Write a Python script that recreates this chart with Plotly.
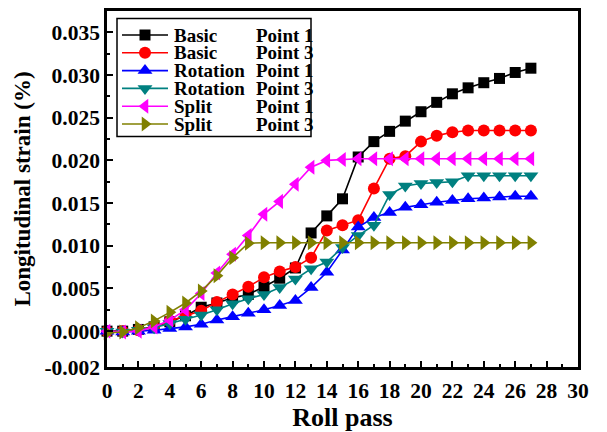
import plotly.graph_objects as go

# ---------------- data ----------------
roll_pass = list(range(0, 28))

basic_p1 = [0.0, 0.0, 0.2, 0.5, 1.1, 1.8, 2.8, 3.3, 3.9, 4.3, 5.2, 6.2, 7.4, 11.5, 13.5, 15.5,
            20.4, 22.2, 23.4, 24.6, 25.7, 26.8, 27.8, 28.5, 29.1, 29.6, 30.3, 30.8]
basic_p3 = [0.0, 0.0, 0.1, 0.5, 1.2, 1.8, 2.4, 3.4, 4.3, 5.2, 6.3, 7.0, 7.5, 8.6, 11.8, 12.4,
            13.0, 16.7, 20.2, 20.5, 22.2, 22.9, 23.3, 23.5, 23.5, 23.5, 23.5, 23.5]
rotation_p1 = [0.0, -0.1, 0.0, 0.1, 0.3, 0.5, 0.8, 1.3, 1.7, 2.1, 2.5, 3.0, 3.6, 5.1, 6.9, 9.5,
               12.2, 13.3, 13.9, 14.5, 14.8, 15.1, 15.3, 15.5, 15.6, 15.7, 15.8, 15.8]
rotation_p3 = [0.0, -0.1, 0.1, 0.4, 0.9, 1.4, 1.9, 2.5, 3.2, 3.8, 4.3, 5.1, 6.1, 7.3, 8.1, 9.8,
               11.2, 12.4, 16.0, 17.0, 17.3, 17.4, 17.5, 18.2, 18.2, 18.2, 18.2, 18.2]
split_p1 = [0.0, -0.1, 0.0, 0.5, 1.3, 2.5, 4.4, 6.8, 9.0, 11.2, 13.7, 15.2, 17.2, 19.2, 20.0, 20.1,
            20.2, 20.2, 20.2, 20.2, 20.2, 20.2, 20.2, 20.2, 20.2, 20.2, 20.2, 20.2]
split_p3 = [-0.2, -0.1, 0.4, 1.2, 2.2, 3.3, 4.7, 6.5, 8.6, 10.3, 10.35, 10.35, 10.35, 10.35, 10.35, 10.35,
            10.35, 10.35, 10.35, 10.35, 10.35, 10.35, 10.35, 10.35, 10.35, 10.35, 10.35, 10.35]

series_methods = ["Basic", "Basic", "Rotation", "Rotation", "Split", "Split"]
series_points = ["Point 1", "Point 3", "Point 1", "Point 3", "Point 1", "Point 3"]
series_values = [basic_p1, basic_p3, rotation_p1, rotation_p3, split_p1, split_p3]
series_colors = ["#000000", "#FF0000", "#0000FF", "#008080", "#FF00FF", "#808000"]
series_symbols = ["square", "circle", "triangle-up", "triangle-down", "triangle-left", "triangle-right"]
series_sizes = [11, 12, 13, 13, 13, 13]

x_tickvals = list(range(0, 31, 2))
x_ticktext = [str(v) for v in x_tickvals]
y_bottom = -0.0042
y_top = 0.0375
y_tickvals = [y_bottom, 0.0, 0.005, 0.010, 0.015, 0.020, 0.025, 0.030, 0.035]
y_ticktext = ["-0.002", "0.000", "0.005", "0.010", "0.015", "0.020", "0.025", "0.030", "0.035"]
y_minor = [0.0025, 0.0075, 0.0125, 0.0175, 0.0225, 0.0275, 0.0325]

# ---------------- layout constants ----------------
W, H = 607, 432
L, R, T, B = 107, 578, 11, 367
FONT = "Liberation Serif"

fig = go.Figure()

for name, pt, vals, col, sym, sz in zip(series_methods, series_points, series_values,
                                        series_colors, series_symbols, series_sizes):
    fig.add_trace(go.Scatter(
        x=roll_pass, y=[v / 1000.0 for v in vals], mode="lines+markers",
        name=f"{name} {pt}",
        line=dict(color=col, width=1.6),
        marker=dict(symbol=sym, size=sz, color=col, line=dict(width=0)),
        cliponaxis=False, showlegend=False))

# ---------------- manual legend (pixel overlay axes) ----------------
leg_left, leg_top, leg_right, leg_bottom = 117, 18.5, 311, 136.5
row0, row_gap = 35.0, 17.8
key_x0, key_x1 = 122, 168
text_x1, text_x2 = 172, 254

fig.add_shape(type="rect", xref="x2", yref="y2", x0=leg_left, x1=leg_right,
              y0=leg_top, y1=leg_bottom, line=dict(color="black", width=1.5),
              fillcolor="white", layer="below")

for i, (name, pt, col, sym, sz) in enumerate(zip(series_methods, series_points, series_colors,
                                                 series_symbols, series_sizes)):
    ry = row0 + i * row_gap
    fig.add_trace(go.Scatter(x=[key_x0, key_x1], y=[ry, ry], mode="lines",
                             line=dict(color=col, width=1.6), xaxis="x2", yaxis="y2",
                             showlegend=False, hoverinfo="skip"))
    fig.add_trace(go.Scatter(x=[(key_x0 + key_x1) / 2], y=[ry], mode="markers",
                             marker=dict(symbol=sym, size=sz, color=col, line=dict(width=0)),
                             xaxis="x2", yaxis="y2", showlegend=False, hoverinfo="skip"))
    fig.add_annotation(x=text_x1, y=ry, xref="x2", yref="y2", text=f"<b>{name}</b>",
                       showarrow=False, xanchor="left", yanchor="middle",
                       font=dict(family=FONT, size=19, color="black"))
    fig.add_annotation(x=text_x2, y=ry, xref="x2", yref="y2", text=f"<b>{pt}</b>",
                       showarrow=False, xanchor="left", yanchor="middle",
                       font=dict(family=FONT, size=19, color="black"))

axis_common = dict(showgrid=False, zeroline=False, showline=True, linecolor="black",
                   linewidth=2.5, mirror=True, ticks="inside", tickcolor="black",
                   tickwidth=2, ticklen=6,
                   tickfont=dict(family=FONT, size=21.5, color="black"))

fig.update_layout(
    width=W, height=H,
    margin=dict(l=L, r=W - R, t=T, b=H - B, autoexpand=False),
    paper_bgcolor="white", plot_bgcolor="white",
    showlegend=False,
    xaxis=dict(range=[0, 30], tickmode="array", tickvals=x_tickvals,
               ticktext=[f"<b>{t}</b>" for t in x_ticktext], ticklabelstandoff=2,
               minor=dict(dtick=1, tick0=0, ticks="inside", ticklen=3, tickwidth=2, tickcolor="black"),
               title=dict(text="<b>Roll pass</b>", font=dict(family=FONT, size=26, color="black"),
                          standoff=7),
               **axis_common),
    yaxis=dict(range=[y_bottom, y_top], tickmode="array", tickvals=y_tickvals,
               ticktext=[f"<b>{t}</b>" for t in y_ticktext],
               minor=dict(tickmode="array", tickvals=y_minor, ticks="inside", ticklen=3,
                          tickwidth=2, tickcolor="black"),
               title=dict(text="<b>Longitudinal strain (%)</b>",
                          font=dict(family=FONT, size=23, color="black"), standoff=8),
               **axis_common),
    xaxis2=dict(range=[L, R], overlaying="x", anchor="y2", visible=False, fixedrange=True),
    yaxis2=dict(range=[B, T], overlaying="y", anchor="x2", visible=False, fixedrange=True),
)

fig.write_html("out.html", config={"displayModeBar": False},
               post_script="document.body.style.margin='0px';")
